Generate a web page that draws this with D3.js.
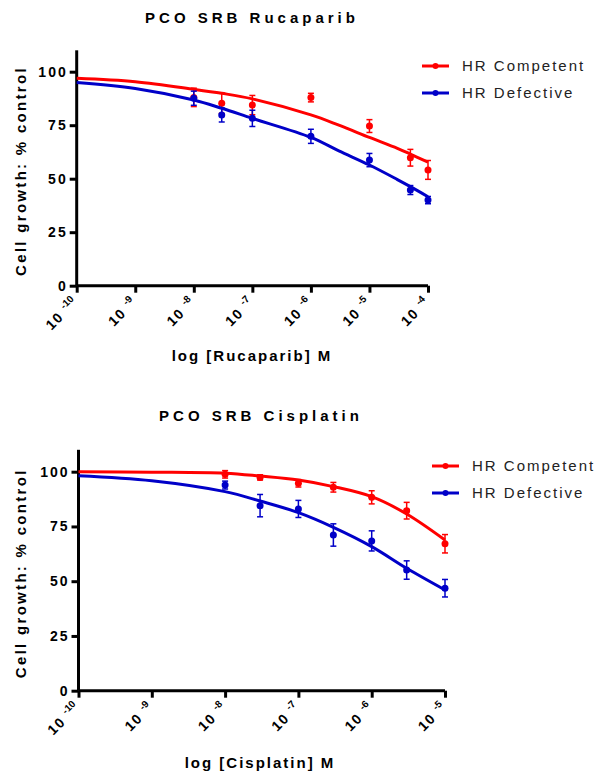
<!DOCTYPE html>
<html>
<head>
<meta charset="utf-8">
<script src="https://cdn.jsdelivr.net/npm/d3@7"></script>
<style>
  body { margin: 0; background: #fff; }
  svg { display: block; font-family: "Liberation Sans", Arial, sans-serif; }
</style>
</head>
<body>
<div id="content"></div>
<script>
// Tick labels / shared
const yTicks = [0, 25, 50, 75, 100];
const seriesNames = ['HR Competent', 'HR Defective'];
const seriesColors = ['#ff0000', '#0000c8'];

// Rucaparib: measured points (mean, sem)
const rucaDoses = [1e-8, 3e-8, 1e-7, 1e-6, 1e-5, 5e-5, 1e-4];
const rucaCompetent = [88.0, 85.2, 84.4, 87.9, 74.6, 59.8, 54.1];
const rucaCompetentErr = [4.3, 4.7, 4.5, 2.0, 3.0, 3.9, 4.4];
const rucaDefective = [87.6, 79.8, 78.2, 69.8, 58.7, 44.7, 40.0];
const rucaDefectiveErr = [3.3, 3.3, 3.8, 3.3, 3.1, 2.1, 1.7];
// Rucaparib: fitted curves
const rucaCurveDoses = [1e-10, 1e-9, 1e-8, 3e-8, 1e-7, 1e-6, 3e-6, 1e-5, 3e-5, 5e-5, 1e-4];
const rucaCurveCompetent = [96.9, 95.3, 91.8, 89.9, 87.3, 79.8, 75.0, 69.3, 64.2, 61.5, 57.7];
const rucaCurveDefective = [95.0, 92.2, 86.8, 82.9, 78.2, 69.3, 63.0, 56.4, 49.6, 46.3, 41.6];
const rucaExponents = [-10, -9, -8, -7, -6, -5, -4];

// Cisplatin: measured points (mean, sem)
const cisDoses = [1e-8, 3e-8, 1e-7, 3e-7, 1e-6, 3e-6, 1e-5];
const cisCompetent = [98.8, 97.4, 94.7, 92.9, 88.3, 82.2, 67.1];
const cisCompetentErr = [1.7, 1.2, 1.7, 2.2, 3.0, 3.8, 4.2];
const cisDefective = [93.9, 84.5, 83.0, 71.1, 68.4, 55.1, 46.8];
const cisDefectiveErr = [1.8, 5.1, 3.9, 5.1, 4.6, 4.2, 4.0];
// Cisplatin: fitted curves
const cisCurveDoses = [1e-10, 1e-9, 1e-8, 3e-8, 1e-7, 3e-7, 1e-6, 3e-6, 1e-5];
const cisCurveCompetent = [100.0, 99.8, 99.3, 98.0, 96.2, 93.2, 88.6, 80.7, 68.8];
const cisCurveDefective = [98.2, 95.9, 90.9, 86.6, 81.3, 74.6, 65.8, 55.9, 46.0];
const cisExponents = [-10, -9, -8, -7, -6, -5];

const svg = d3.select('#content')
  .append('svg')
  .attr('width', 600)
  .attr('height', 774);

function drawChart(cfg) {
  let g = svg.append('g');

  let x = d3.scaleLog()
    .domain([1e-10, Math.pow(10, cfg.exponents[cfg.exponents.length - 1])])
    .range([cfg.left, cfg.right]);
  let y = d3.scaleLinear()
    .domain([0, 110])
    .range([cfg.bottom, cfg.top]);

  // Title
  g.append('text')
    .attr('x', cfg.titleX)
    .attr('y', cfg.titleY)
    .attr('text-anchor', 'middle')
    .style('font-weight', 'bold')
    .style('font-size', '15px')
    .style('letter-spacing', '4px')
    .text(cfg.title);

  // Y axis
  let yAxis = g.append('g')
    .attr('transform', 'translate(' + cfg.left + ',0)')
    .call(d3.axisLeft(y).tickValues(yTicks).tickSize(7).tickPadding(2));
  yAxis.select('.domain')
    .attr('d', 'M0,' + y(0) + 'V' + y(110))
    .attr('stroke-width', 3);
  yAxis.selectAll('.tick line').attr('stroke-width', 3);
  yAxis.selectAll('.tick text')
    .attr('fill', '#000')
    .style('font-family', '"Liberation Sans", Arial, sans-serif')
    .style('font-weight', 'bold')
    .style('font-size', '14px')
    .style('letter-spacing', '2px');

  // X axis
  let xAxis = g.append('g')
    .attr('transform', 'translate(0,' + cfg.bottom + ')')
    .call(d3.axisBottom(x)
      .tickValues(cfg.exponents.map((e) => Math.pow(10, e)))
      .tickSize(7)
      .tickFormat(''));
  xAxis.select('.domain')
    .attr('d', 'M' + cfg.left + ',0H' + cfg.right)
    .attr('stroke-width', 3);
  xAxis.selectAll('.tick line').attr('stroke-width', 3);

  // rotated 10^n labels
  cfg.exponents.forEach((e) => {
    let t = g.append('text')
      .attr('transform', 'translate(' + (x(Math.pow(10, e)) + 2) + ',' + (cfg.bottom + 18) + ') rotate(-45)')
      .attr('text-anchor', 'end')
      .style('font-weight', 'bold')
      .style('font-size', '14px');
    t.append('tspan').text('10 ').style('letter-spacing', '1.5px');
    t.append('tspan')
      .attr('dy', -6)
      .style('font-size', '10px')
      .text(e);
  });

  // axis titles
  g.append('text')
    .attr('x', cfg.xLabelX)
    .attr('y', cfg.xLabelY)
    .attr('text-anchor', 'middle')
    .style('font-weight', 'bold')
    .style('font-size', '15px')
    .style('letter-spacing', '2px')
    .text(cfg.xLabel);

  g.append('text')
    .attr('transform', 'translate(' + 26 + ',' + ((y(0) + y(110)) / 2 + 3) + ') rotate(-90)')
    .attr('text-anchor', 'middle')
    .style('font-weight', 'bold')
    .style('font-size', '15px')
    .style('letter-spacing', '2.3px')
    .text('Cell growth: % control');

  let line = d3.line()
    .x((d) => x(d[0]))
    .y((d) => y(d[1]))
    .curve(d3.curveCatmullRom.alpha(0.5));

  cfg.series.forEach((s, i) => {
    let color = seriesColors[i];

    g.append('path')
      .datum(cfg.curveDoses.map((d, j) => [d, s.curve[j]]))
      .attr('fill', 'none')
      .attr('stroke', color)
      .attr('stroke-width', 3)
      .attr('d', line);

    let pts = cfg.doses.map((d, j) => ({dose: d, value: s.values[j], err: s.errs[j]}));

    let eb = g.selectAll('.eb' + i)
      .data(pts)
      .enter()
      .append('g');
    eb.append('line')
      .attr('x1', (d) => x(d.dose)).attr('x2', (d) => x(d.dose))
      .attr('y1', (d) => y(d.value - d.err)).attr('y2', (d) => y(d.value + d.err))
      .attr('stroke', color).attr('stroke-width', 1.5);
    [-1, 1].forEach((sgn) => {
      eb.append('line')
        .attr('x1', (d) => x(d.dose) - 3).attr('x2', (d) => x(d.dose) + 3)
        .attr('y1', (d) => y(d.value + sgn * d.err)).attr('y2', (d) => y(d.value + sgn * d.err))
        .attr('stroke', color).attr('stroke-width', 1.5);
    });

    g.selectAll('.dot' + i)
      .data(pts)
      .enter()
      .append('circle')
      .attr('r', 3.5)
      .attr('cx', (d) => x(d.dose))
      .attr('cy', (d) => y(d.value))
      .attr('fill', color);

    // legend
    let ly = cfg.legendY + i * 27;
    g.append('line')
      .attr('x1', cfg.legendX).attr('x2', cfg.legendX + 27)
      .attr('y1', ly).attr('y2', ly)
      .attr('stroke', color).attr('stroke-width', 3);
    g.append('circle')
      .attr('cx', cfg.legendX + 13.5).attr('cy', ly).attr('r', 3)
      .attr('fill', color);
    g.append('text')
      .attr('x', cfg.legendX + 40)
      .attr('y', ly + 5)
      .style('font-size', '15px')
      .style('letter-spacing', '2px')
      .attr('fill', '#222')
      .text(seriesNames[i]);
  });
}

drawChart({
  title: 'PCO SRB Rucaparib',
  titleX: 252, titleY: 23,
  xLabel: 'log [Rucaparib] M',
  xLabelX: 252, xLabelY: 361,
  left: 76.7, right: 428, top: 50.3, bottom: 285.7,
  exponents: rucaExponents,
  doses: rucaDoses,
  curveDoses: rucaCurveDoses,
  legendX: 422, legendY: 66,
  series: [
    {values: rucaCompetent, errs: rucaCompetentErr, curve: rucaCurveCompetent},
    {values: rucaDefective, errs: rucaDefectiveErr, curve: rucaCurveDefective}
  ]
});

drawChart({
  title: 'PCO SRB Cisplatin',
  titleX: 261, titleY: 421,
  xLabel: 'log [Cisplatin] M',
  xLabelX: 260, xLabelY: 768,
  left: 78.5, right: 445, top: 449.8, bottom: 690.7,
  exponents: cisExponents,
  doses: cisDoses,
  curveDoses: cisCurveDoses,
  legendX: 432, legendY: 466,
  series: [
    {values: cisCompetent, errs: cisCompetentErr, curve: cisCurveCompetent},
    {values: cisDefective, errs: cisDefectiveErr, curve: cisCurveDefective}
  ]
});
</script>
</body>
</html>
